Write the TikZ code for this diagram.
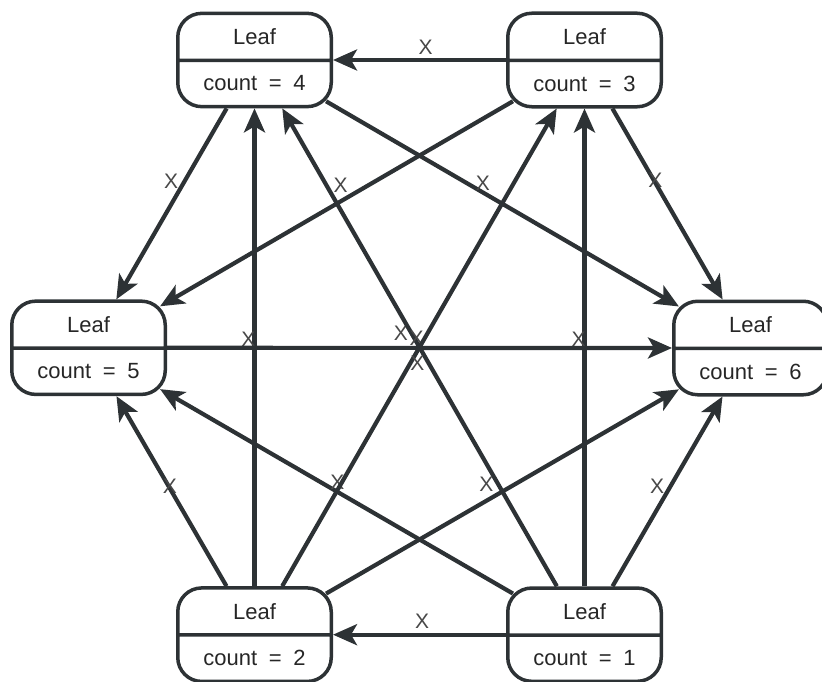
\documentclass[tikz,border=0pt]{standalone}
\usepackage{fontspec}
\setmainfont{Liberation Sans}[WordSpace=1.9]
\usetikzlibrary{
	positioning,
	shapes.multipart,
	arrows.meta
}
\definecolor{LeafLine}{RGB}{45,50,53}
\definecolor{LeafText}{RGB}{38,38,38}
\definecolor{LabelText}{RGB}{72,72,72}

\begin{document}
\begin{tikzpicture}[
	x=1pt,
	y=-1pt,
	leaf/.style={
		draw=LeafLine,
		line width=3.5pt,
		rounded corners=24pt,
		rectangle split,
		rectangle split parts=2,
		minimum width=153.5pt,
		inner ysep=13.7pt,
		text=LeafText,
		font=\fontsize{22}{26}\selectfont
	},
	flow/.style={
		-{Stealth[length=24pt,width=21pt,inset=6pt]},
		LeafLine,
		line width=4.2pt
	},
	corner/.style={shorten <=-8pt, shorten >=-8pt},
	lbl/.style={
		text=LabelText,
		font=\fontsize{21}{24}\selectfont,
		inner sep=0pt,
		xshift=-6pt,
		yshift=13pt
	},
	lblc/.style={
		text=LabelText,
		font=\fontsize{21}{24}\selectfont,
		inner sep=0pt
	}
	]
	
	\useasboundingbox (0,0) rectangle (822,682);
	
	% top row
	\node[leaf] (n4) at (254.5,60) {Leaf \nodepart{two} count = 4};
	\node[leaf, right=173pt of n4] (n3) {Leaf \nodepart{two} count = 3};
	
	% middle row
	\node[leaf, below left=191pt and 9pt of n4] (n5) {Leaf \nodepart{two} count = 5};
	\node[leaf, below right=191pt and 9pt of n3] (n6) {Leaf \nodepart{two} count = 6};
	
	% bottom row
	\node[leaf, below right=190pt and 9pt of n5] (n2) {Leaf \nodepart{two} count = 2};
	\node[leaf, right=173pt of n2] (n1) {Leaf \nodepart{two} count = 1};
	
	% outer edges
	\draw[flow] (n3) -- node[lbl, pos=.43] {X} (n4);
	\draw[flow] (n1) -- node[lbl, pos=.45] {X} (n2);
	\draw[flow] (n4) -- node[lbl, pos=.45] {X} (n5);
	\draw[flow] (n3) -- node[lbl, pos=.445] {X} (n6);
	\draw[flow] (n2) -- node[lbl, pos=.46] {X} (n5);
	\draw[flow] (n1) -- node[lbl, pos=.46] {X} (n6);
	
	% corner to corner
	\draw[flow, corner] (n3) -- node[lbl, pos=.47] {X} (n5);
	\draw[flow, corner] (n4) -- node[lbl, pos=.46] {X} (n6);
	\draw[flow, corner] (n2) -- node[lbl, pos=.47] {X} (n6);
	\draw[flow, corner] (n1) -- node[lbl, pos=.48] {X} (n5);
	
	% verticals
	\draw[flow] (n2) -- node[lbl, pos=.49] {X} (n4);
	\draw[flow] (n1) -- node[lbl, pos=.49] {X} (n3);
	
	% through the middle
	\draw[flow] (n5) -- node[lbl, pos=.475, yshift=2pt] {X} (n6);
	\draw[flow] (n1) -- node[lblc, pos=.5, xshift=-3pt, yshift=9.5pt] {X} (n4);
	\draw[flow] (n2) -- node[lblc, pos=.5, xshift=-2pt, yshift=-15.5pt] {X} (n3);
	
\end{tikzpicture}
\end{document}
